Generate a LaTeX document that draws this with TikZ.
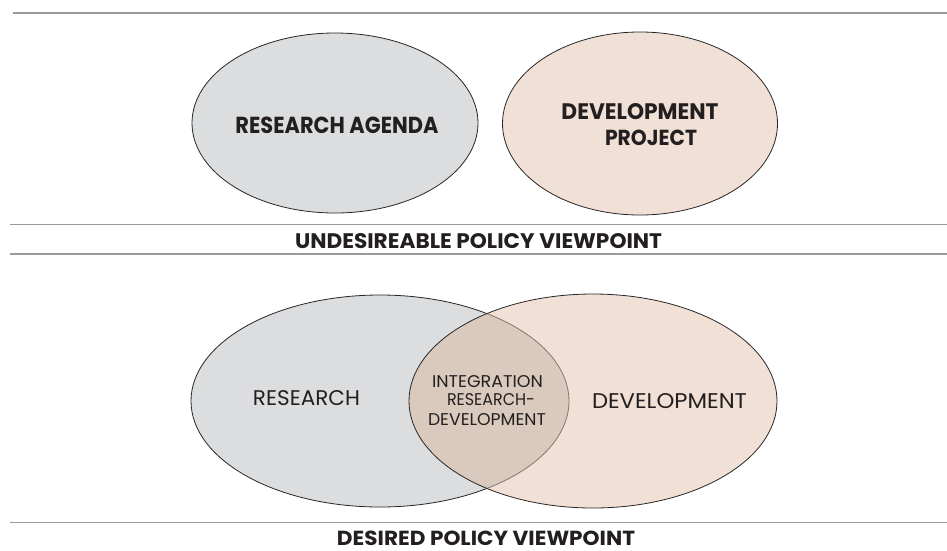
\documentclass[tikz,border=0pt]{standalone}
\usepackage{fontspec}
\setmainfont{Poppins}
\usepackage{graphicx}
\definecolor{grayfill}{HTML}{DCDDDF}
\definecolor{pinkfill}{HTML}{F1E0D5}
\definecolor{overlapfill}{HTML}{DACABD}
\definecolor{innerline}{HTML}{85766C}
\definecolor{txt}{HTML}{231F20}
\definecolor{rule}{HTML}{9A9A9A}
\newcommand{\fitwh}[3]{\resizebox{#1pt}{#2pt}{#3}}
\begin{document}
\begin{tikzpicture}[x=1pt,y=-1pt,
  outl/.style={draw=black!85,line width=0.8pt},
  sep/.style={draw=rule,line width=1.2pt},
  lbl/.style={text=txt,inner sep=0pt,anchor=base}]
\useasboundingbox (0,0) rectangle (947,550);
% separator lines
\coordinate (l1a) at (13,13); \coordinate (l1b) at (947,13);
\coordinate (l2a) at (10,224.5); \coordinate (l2b) at (947,224.5);
\coordinate (l3a) at (10,254); \coordinate (l3b) at (947,254);
\coordinate (l4a) at (10,522.5); \coordinate (l4b) at (947,522.5);
\draw[sep] (l1a) -- (l1b);
\draw[sep] (l2a) -- (l2b);
\draw[sep] (l3a) -- (l3b);
\draw[sep] (l4a) -- (l4b);
% top ellipses
\fill[grayfill] (335,123) ellipse [x radius=143,y radius=90];
\draw[outl] (335,123) ellipse [x radius=143,y radius=90];
\fill[pinkfill] (640,123.5) ellipse [x radius=137.5,y radius=91.5];
\draw[outl] (640,123.5) ellipse [x radius=137.5,y radius=91.5];
\node[lbl] (ra) at (337,133.5) {\fitwh{203}{16.5}{\bfseries RESEARCH AGENDA}};
\node[lbl] (dp1) at (640,119.5) {\fitwh{157}{16}{\bfseries DEVELOPMENT}};
\node[lbl] (dp2) at (651,145) {\fitwh{92}{15.5}{\bfseries PROJECT}};
\node[lbl] (t1) at (478.5,248) {\fitwh{367}{15}{\bfseries UNDESIREABLE POLICY VIEWPOINT}};
% bottom ellipses
\fill[grayfill] (380,401) ellipse [x radius=189,y radius=106];
\draw[outl] (380,401) ellipse [x radius=189,y radius=106];
\fill[pinkfill] (593,401) ellipse [x radius=184,y radius=107];
\begin{scope}
  \clip (593,401) ellipse [x radius=184,y radius=107];
  \fill[overlapfill] (380,401) ellipse [x radius=189,y radius=106];
  \draw[innerline,line width=0.8pt] (380,401) ellipse [x radius=189,y radius=106];
\end{scope}
\draw[outl] (593,401) ellipse [x radius=184,y radius=107];
\node[lbl] (r) at (306.5,405) {\fitwh{107}{15}{RESEARCH}};
\node[lbl] (d) at (669.5,408) {\fitwh{155}{15}{DEVELOPMENT}};
\node[lbl] (i1) at (487.5,387) {\fitwh{111}{12}{INTEGRATION}};
\node[lbl] (i2) at (491,405) {\fitwh{88}{12}{RESEARCH-}};
\node[lbl] (i3) at (487,425) {\fitwh{118}{12}{DEVELOPMENT}};
\node[lbl] (t2) at (486,545.5) {\fitwh{298}{14.5}{\bfseries DESIRED POLICY VIEWPOINT}};
\end{tikzpicture}
\end{document}
